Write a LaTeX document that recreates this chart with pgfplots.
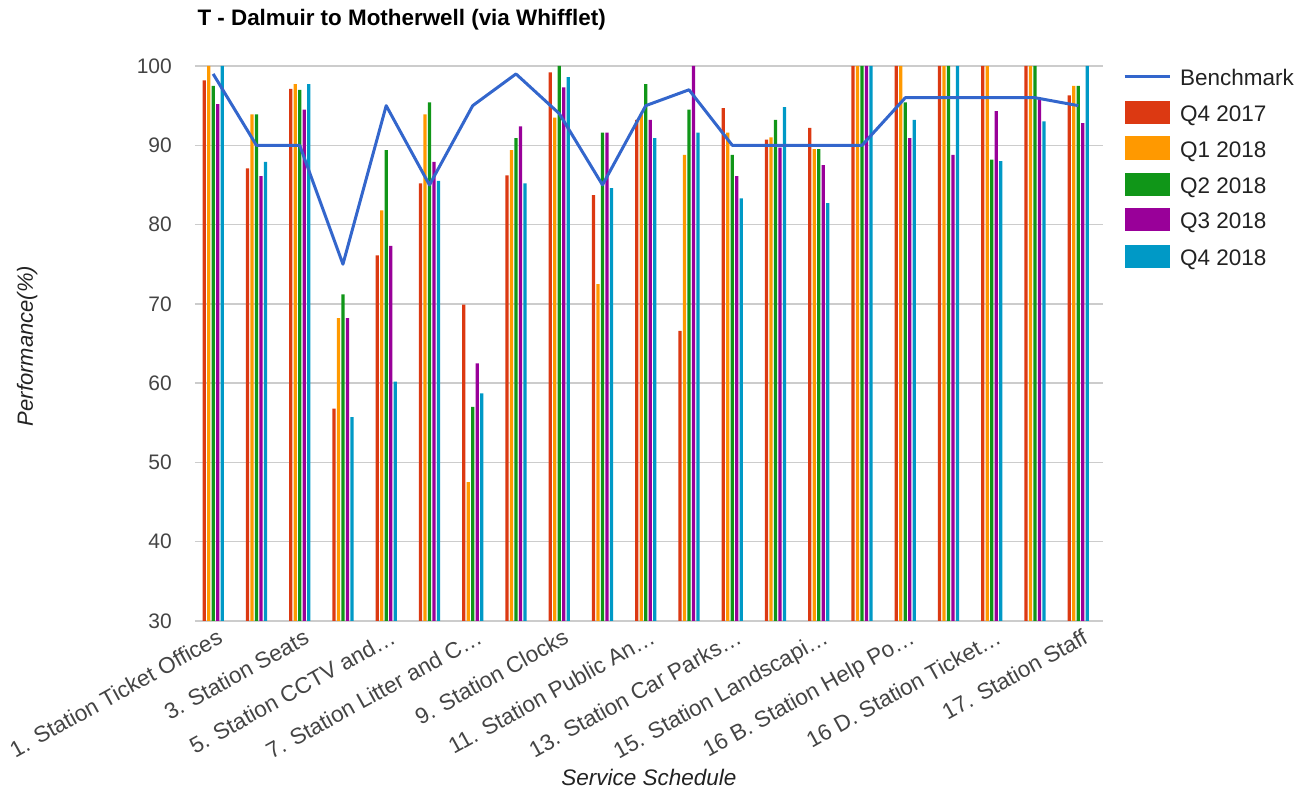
\documentclass[border=0pt]{standalone}
\usepackage{fontspec}
\setmainfont{Liberation Sans}
\usepackage{pgfplots}
\pgfplotsset{compat=1.18}
\usepackage{pgfplotstable}
\definecolor{cQa}{HTML}{DC3912}
\definecolor{cQb}{HTML}{FF9900}
\definecolor{cQc}{HTML}{109618}
\definecolor{cQd}{HTML}{990099}
\definecolor{cQe}{HTML}{0099C6}
\definecolor{cBench}{HTML}{3366CC}
\definecolor{gridgray}{HTML}{CCCCCC}
\definecolor{ticktext}{HTML}{444444}
\definecolor{labtext}{HTML}{222222}

\pgfplotstableread{
x  qa    qb    qc    qd    qe    bench
0  98.2  100   97.5  95.2  100   99
1  87.1  93.9  93.9  86.1  87.9  90
2  97.1  97.7  97.0  94.5  97.7  90
3  56.8  68.2  71.2  68.2  55.7  75
4  76.1  81.8  89.4  77.3  60.2  95
5  85.2  93.9  95.4  87.9  85.5  85
6  69.9  47.5  57.0  62.5  58.7  95
7  86.2  89.4  90.9  92.4  85.2  99
8  99.2  93.5  100   97.3  98.6  94
9  83.7  72.5  91.6  91.6  84.6  85
10 93.2  93.9  97.7  93.2  90.9  95
11 66.6  88.8  94.5  100   91.6  97
12 94.7  91.6  88.8  86.1  83.3  90
13 90.7  91.0  93.2  89.7  94.8  90
14 92.2  89.5  89.5  87.5  82.7  90
15 100   100   100   100   100   90
16 100   100   95.4  90.9  93.2  96
17 100   100   100   88.8  100   96
18 100   100   88.2  94.3  88.0  96
19 100   100   100   95.9  93.0  96
20 96.3  97.5  97.5  92.8  100   95
}\data

\pgfplotsset{
  barleg/.style={legend image code/.code={\fill[##1] (0pt,-10pt) rectangle (45pt,13pt); \path (54pt,0pt);}},
  mybar/.style={ybar, bar width=3.3pt, draw=none, barleg},
}

\begin{document}
\begin{tikzpicture}
\useasboundingbox (-195pt,-173pt) rectangle (1107pt,621pt);
\begin{axis}[
  at={(0pt,0pt)}, anchor=south west,
  scale only axis, width=908pt, height=555pt,
  xmin=-0.42, xmax=20.57, ymin=30, ymax=100,
  ytick={30,40,...,100},
  xtick={0,2,...,20},
  xticklabels={1. Station Ticket Offices, 3. Station Seats, 5. Station CCTV and…, 7. Station Litter and C…, 9. Station Clocks, 11. Station Public An…, 13. Station Car Parks…, 15. Station Landscapi…, 16 B. Station Help Po…, 16 D. Station Ticket…, 17. Station Staff},
  axis line style={draw=none},
  ymajorgrids, major grid style={color=gridgray, line width=1.4pt},
  major tick length=0pt, tick style={draw=none},
  /pgf/number format/assume math mode=true,
  yticklabel style={font=\fontsize{21}{25}\selectfont, text=ticktext, inner sep=0pt, anchor=east, xshift=-23pt},
  xticklabel style={font=\fontsize{22.5}{26}\selectfont, text=ticktext, inner sep=0pt, xshift=3pt, yshift=-7pt, rotate=29, anchor=north east},
  legend style={at={(1,1)}, anchor=north west, xshift=20pt, yshift=1pt, draw=none, fill=none, inner sep=0pt, outer sep=0pt, row sep=10.5pt, font=\fontsize{22.5}{26}\selectfont, text=labtext, nodes={inner sep=0pt, text height=20pt, text depth=5pt}},
  legend cell align=left,
]
\addlegendimage{color=cBench, line width=3pt, legend image code/.code={\draw[##1] (0pt,1pt) -- (45pt,1pt); \path (54pt,0pt);}}
\addlegendentry{Benchmark}
\addplot[mybar, bar shift=-9pt, fill=cQa] table[x=x, y=qa] {\data};
\addlegendentry{Q4 2017}
\addplot[mybar, bar shift=-4.5pt, fill=cQb] table[x=x, y=qb] {\data};
\addlegendentry{Q1 2018}
\addplot[mybar, bar shift=0pt, fill=cQc] table[x=x, y=qc] {\data};
\addlegendentry{Q2 2018}
\addplot[mybar, bar shift=4.5pt, fill=cQd] table[x=x, y=qd] {\data};
\addlegendentry{Q3 2018}
\addplot[mybar, bar shift=9pt, fill=cQe] table[x=x, y=qe] {\data};
\addlegendentry{Q4 2018}
\addplot[forget plot, sharp plot, color=cBench, line width=3pt, line join=round, mark=none] table[x=x, y=bench] {\data};
\end{axis}
\node[anchor=base west, font=\fontsize{22.4}{26}\selectfont\bfseries] at (-1pt,595pt) {T - Dalmuir to Motherwell (via Whifflet)};
\node[anchor=base, rotate=90, font=\fontsize{22}{26}\selectfont\itshape, text=labtext] at (-162pt,275pt) {Performance(\%)};
\node[anchor=base, font=\fontsize{22.5}{26}\selectfont\itshape, text=labtext] at (454pt,-165pt) {Service Schedule};
\end{tikzpicture}
\end{document}
